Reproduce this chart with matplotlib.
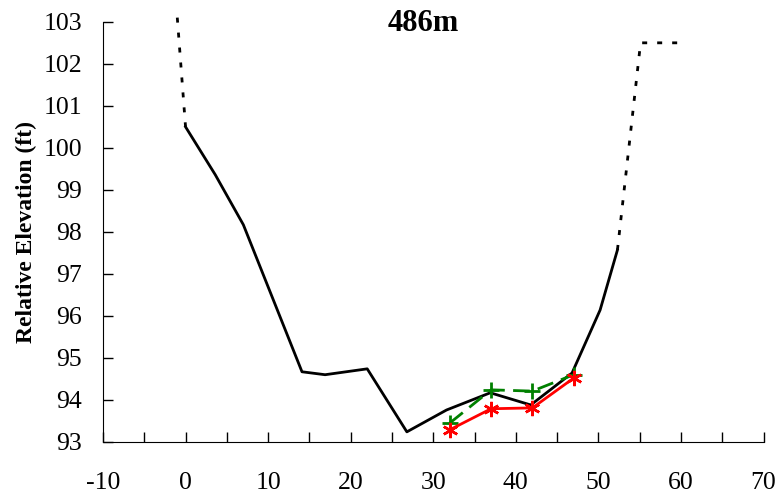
import numpy as np
import matplotlib.pyplot as plt

plt.rcParams['font.family'] = ['Liberation Serif', 'DejaVu Serif']
plt.rcParams['axes.unicode_minus'] = False

# bank tops (dotted)
left_x = [-1, 0]
left_y = [103.1, 100.5]
right_x = [52.3, 55.1, 60]
right_y = [97.57, 102.5, 102.5]

# surveyed cross-section (solid black)
xs_x = [0, 3.6, 7, 14.1, 16.9, 22, 26.8, 31.6, 36.9, 41.8, 46.8, 50.2, 52.3]
xs_y = [100.5, 99.36, 98.17, 94.67, 94.6, 94.74, 93.24, 93.76, 94.17, 93.88, 94.64, 96.14, 97.57]

# green dashed with +
g_x = [32, 37, 42, 47]
g_y = [93.45, 94.24, 94.21, 94.6]

# red with asterisks
r_x = [32, 37, 42, 47]
r_y = [93.29, 93.79, 93.81, 94.52]

fig = plt.figure(figsize=(7.8, 4.96), dpi=100)
ax = fig.add_axes([0.132, 0.109, 0.847, 0.847])

ax.plot(left_x, left_y, color='black', lw=2, ls=(0, (1.8, 3.6)), clip_on=False)
ax.plot(right_x, right_y, color='black', lw=2, ls=(0, (1.8, 3.6)))
ax.plot(xs_x, xs_y, color='black', lw=2)
ax.plot(g_x, g_y, color='green', lw=2, ls=(0, (6, 3)), marker='+', ms=12, mew=2)
ax.plot(r_x, r_y, color='red', lw=2, marker=(6, 2, 0), ms=11, mew=1.8)

ax.set_xlim(-10, 70)
ax.set_ylim(93, 103)
ax.set_xticks(np.arange(-10, 71, 10))
ax.set_xticks(np.arange(-10, 71, 5), minor=True)
ax.set_yticks(np.arange(93, 104, 1))
ax.tick_params(axis='both', which='both', direction='in', labelsize=18.5, length=7, width=1)
ax.tick_params(axis='x', which='major', pad=22)
ax.tick_params(axis='y', pad=15)
for s in ['top', 'right']:
    ax.spines[s].set_visible(False)

ax.set_ylabel('Relative Elevation (ft)', fontsize=17, fontweight='bold', labelpad=5)
fig.text(0.543, 0.953, '486m', fontsize=22, fontweight='bold', ha='center', va='center')

fig.savefig('out.png', dpi=100)
